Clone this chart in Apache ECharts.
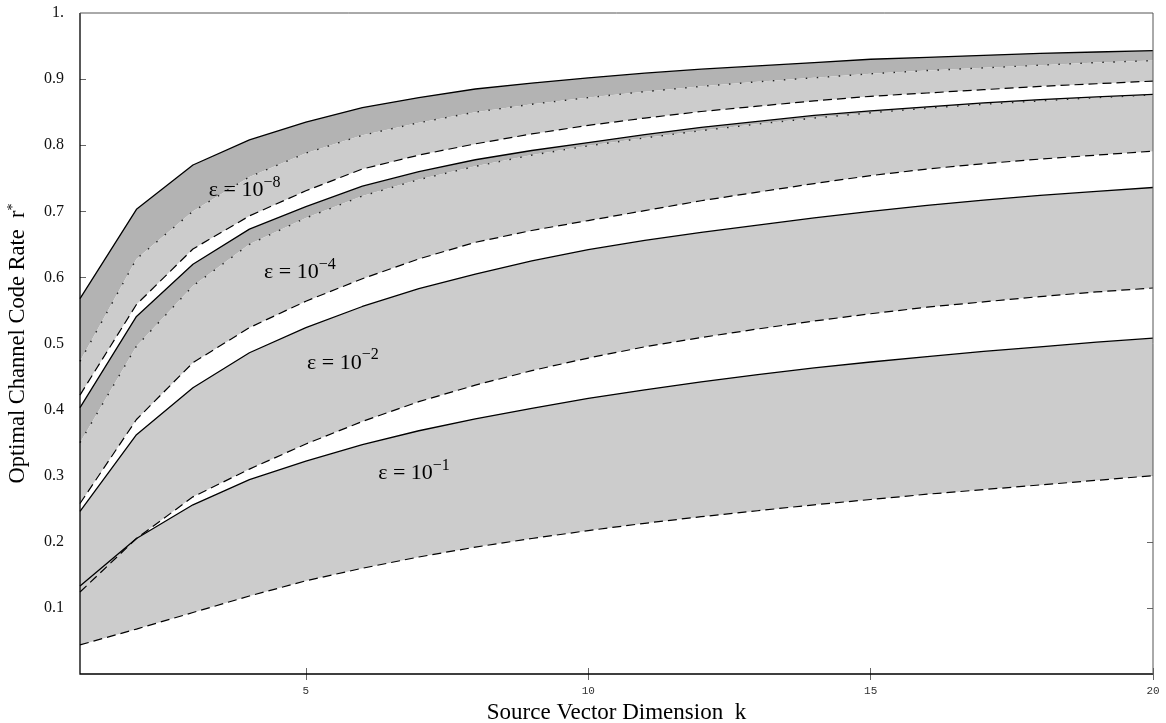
<!DOCTYPE html>
<html>
<head>
<meta charset="utf-8">
<title>Optimal Channel Code Rate</title>
<script src="https://cdn.jsdelivr.net/npm/echarts@6/dist/echarts.min.js"></script>
<style>
	html, body { margin: 0; padding: 0; background: #fff; }
	#main { width: 1166px; height: 723px; }
</style>
</head>
<body>
<div id="main"></div>
<script>
// source vector dimension k
var dims = [1, 2, 3, 4, 5, 6, 7, 8, 9, 10, 11, 12, 13, 14, 15, 16, 17, 18, 19, 20];
var xTicks = [5, 10, 15, 20];
var yTicks = [0.1, 0.2, 0.3, 0.4, 0.5, 0.6, 0.7, 0.8, 0.9];
var yLabels = [0.1, 0.2, 0.3, 0.4, 0.5, 0.6, 0.7, 0.8, 0.9, 1];

// eps = 1e-8 : solid / dotted / dashed
var upper8 = [0.568, 0.703, 0.770, 0.808, 0.835, 0.857, 0.872, 0.885, 0.894, 0.902, 0.909, 0.915, 0.920, 0.925, 0.930, 0.933, 0.936, 0.939, 0.941, 0.943];
var mid8   = [0.473, 0.628, 0.700, 0.752, 0.788, 0.815, 0.834, 0.850, 0.862, 0.872, 0.881, 0.889, 0.896, 0.902, 0.908, 0.913, 0.917, 0.921, 0.925, 0.928];
var lower8 = [0.422, 0.559, 0.643, 0.693, 0.731, 0.764, 0.785, 0.802, 0.817, 0.830, 0.841, 0.851, 0.859, 0.867, 0.874, 0.879, 0.884, 0.889, 0.893, 0.897];
// eps = 1e-4
var upper4 = [0.403, 0.541, 0.620, 0.673, 0.707, 0.738, 0.760, 0.778, 0.792, 0.804, 0.816, 0.827, 0.836, 0.845, 0.852, 0.858, 0.864, 0.869, 0.873, 0.877];
var mid4   = [0.350, 0.496, 0.587, 0.650, 0.690, 0.723, 0.748, 0.768, 0.785, 0.799, 0.811, 0.822, 0.832, 0.841, 0.849, 0.856, 0.862, 0.867, 0.872, 0.876];
var lower4 = [0.258, 0.385, 0.471, 0.524, 0.564, 0.598, 0.628, 0.653, 0.671, 0.686, 0.701, 0.716, 0.729, 0.742, 0.754, 0.764, 0.772, 0.779, 0.785, 0.791];
// eps = 1e-2
var upper2 = [0.246, 0.362, 0.433, 0.486, 0.524, 0.556, 0.583, 0.605, 0.625, 0.642, 0.656, 0.668, 0.679, 0.690, 0.700, 0.709, 0.717, 0.724, 0.730, 0.736];
var lower2 = [0.124, 0.205, 0.268, 0.310, 0.348, 0.382, 0.412, 0.437, 0.459, 0.478, 0.495, 0.509, 0.522, 0.534, 0.545, 0.555, 0.563, 0.571, 0.578, 0.584];
// eps = 1e-1
var upper1 = [0.133, 0.205, 0.256, 0.294, 0.322, 0.347, 0.368, 0.386, 0.402, 0.417, 0.430, 0.442, 0.453, 0.463, 0.472, 0.480, 0.488, 0.495, 0.502, 0.508];
var lower1 = [0.044, 0.068, 0.093, 0.118, 0.141, 0.160, 0.177, 0.192, 0.205, 0.217, 0.228, 0.238, 0.247, 0.256, 0.264, 0.272, 0.279, 0.286, 0.293, 0.300];

var DARK = '#b3b3b3';
var LIGHT = '#cccccc';
var SERIF = 'Liberation Serif';

function pairs(arr) {
	return dims.map(function (k, i) { return [k, arr[i]]; });
}

// shaded band between two curves, drawn as one polygon through the axes' scales
function band(name, top, bottom, color) {
	return {
		name: name, type: 'custom', silent: true, z: 2,
		data: [[dims[0], top[0]]],
		renderItem: function (params, api) {
			var pts = [];
			for (var i = 0; i < dims.length; i++) pts.push(api.coord([dims[i], top[i]]));
			for (var j = dims.length - 1; j >= 0; j--) pts.push(api.coord([dims[j], bottom[j]]));
			return { type: 'polygon', shape: { points: pts }, style: { fill: color, stroke: null } };
		}
	};
}

function curve(name, arr, kind) {
	var style = { color: '#000', width: 1.3, type: 'solid' };
	if (kind === 'dashed') { style.type = [9, 5]; style.width = 1.2; }
	if (kind === 'dotted') { style.type = [1.5, 9.5]; style.width = 1.4; style.color = '#222'; }
	return {
		name: name, type: 'line', data: pairs(arr), symbol: 'none', silent: true,
		lineStyle: style, z: 5
	};
}

var series = [
	band('dark8', upper8, mid8, DARK),
	band('light8', mid8, lower8, LIGHT),
	band('dark4', upper4, mid4, DARK),
	band('light4', mid4, lower4, LIGHT),
	band('light2', upper2, lower2, LIGHT),
	band('light1', upper1, lower1, LIGHT),
	curve('s8', upper8, 'solid'), curve('d8', mid8, 'dotted'), curve('l8', lower8, 'dashed'),
	curve('s4', upper4, 'solid'), curve('d4', mid4, 'dotted'), curve('l4', lower4, 'dashed'),
	curve('s2', upper2, 'solid'), curve('l2', lower2, 'dashed'),
	curve('s1', upper1, 'solid'), curve('l1', lower1, 'dashed')
];

var tickStyle = { show: true, inside: true, length: 6, lineStyle: { color: '#666', width: 1 } };

var chart = echarts.init(document.getElementById('main'));
var option = {
	animation: false,
	grid: { left: 80, right: 13, top: 13, bottom: 49, containLabel: false, outerBoundsMode: 'none' },
	xAxis: [
		{
			type: 'value', min: 1, max: 20, position: 'bottom',
			name: 'Source Vector Dimension  k', nameLocation: 'middle', nameGap: 25,
			nameTextStyle: { fontFamily: SERIF, fontSize: 23, color: '#000' },
			axisLine: { show: false }, splitLine: { show: false },
			axisTick: Object.assign({ customValues: xTicks }, tickStyle),
			axisLabel: {
				customValues: xTicks, margin: 12,
				fontFamily: 'Liberation Mono', fontSize: 11, color: '#333'
			}
		},
		{
			type: 'value', min: 1, max: 20, position: 'top',
			axisLine: { show: false }, splitLine: { show: false },
			axisTick: Object.assign({ customValues: xTicks }, tickStyle),
			axisLabel: { show: false }
		}
	],
	yAxis: [
		{
			type: 'value', min: 0, max: 1, position: 'left',
			name: '{a|Optimal Channel Code Rate  r}{s|*}', nameLocation: 'middle', nameGap: 50,
			nameTextStyle: {
				rich: {
					a: { fontFamily: SERIF, fontSize: 22.5, color: '#000', verticalAlign: 'bottom', lineHeight: 26 },
					s: { fontFamily: SERIF, fontSize: 14, color: '#000', verticalAlign: 'bottom', lineHeight: 26, padding: [0, 0, 10, 0] }
				}
			},
			axisLine: { show: false }, splitLine: { show: false },
			axisTick: Object.assign({ customValues: yTicks }, tickStyle),
			axisLabel: {
				customValues: yLabels, margin: 16,
				fontFamily: SERIF, fontSize: 16, color: '#111',
				formatter: function (v) { return v === 1 ? '1.' : v.toFixed(1); }
			}
		},
		{
			type: 'value', min: 0, max: 1, position: 'right',
			axisLine: { show: false }, splitLine: { show: false },
			axisTick: Object.assign({ customValues: yTicks }, tickStyle),
			axisLabel: { show: false }
		}
	],
	series: series
};
chart.setOption(option);

// frame and epsilon annotations
var p0 = chart.convertToPixel({ gridIndex: 0 }, [1, 0]);
var p1 = chart.convertToPixel({ gridIndex: 0 }, [20, 1]);

function epsLabel(k, v, exp) {
	var p = chart.convertToPixel({ gridIndex: 0 }, [k, v]);
	return {
		type: 'text', x: p[0], y: p[1], z: 50, silent: true,
		style: {
			text: '{b|\u03b5 = 10}{s|\u2212' + exp + '}',
			verticalAlign: 'middle', align: 'left',
			rich: {
				b: { fontFamily: SERIF, fontSize: 22, fill: '#000', verticalAlign: 'bottom', lineHeight: 28 },
				s: { fontFamily: SERIF, fontSize: 16, fill: '#000', verticalAlign: 'bottom', lineHeight: 28, padding: [0, 0, 11, 0] }
			}
		}
	};
}

chart.setOption({
	graphic: [
		{
			type: 'polyline', z: 100, silent: true,
			shape: { points: [[p0[0], p1[1]], [p0[0], p0[1]], [p1[0], p0[1]]] },
			style: { stroke: '#000', lineWidth: 1.3, fill: null }
		},
		{
			type: 'polyline', z: 100, silent: true,
			shape: { points: [[p0[0], p1[1]], [p1[0], p1[1]], [p1[0], p0[1]]] },
			style: { stroke: '#555', lineWidth: 1, fill: null }
		},
		epsLabel(3.28, 0.736, '8'),
		epsLabel(4.26, 0.612, '4'),
		epsLabel(5.02, 0.475, '2'),
		epsLabel(6.28, 0.308, '1')
	]
});
</script>
</body>
</html>
